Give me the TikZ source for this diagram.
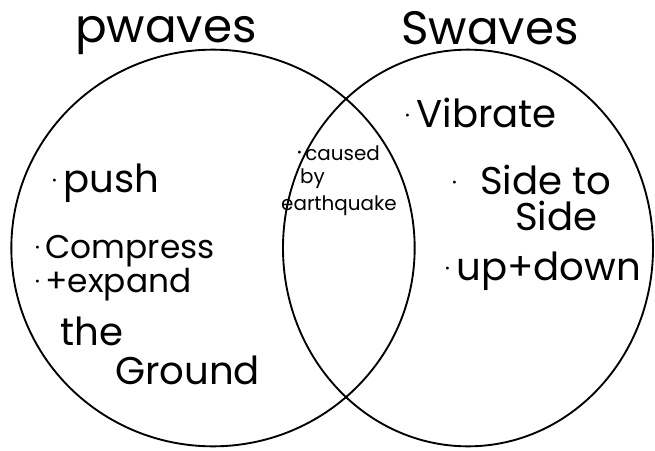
\documentclass[tikz,border=0pt]{standalone}
\usepackage{fontspec}
\setmainfont{Poppins}
\usetikzlibrary{shapes.geometric}

\newcommand{\itemdot}{\raisebox{0.2em}{\fontsize{10}{10}\selectfont\textbullet}\,}

\begin{document}
\begin{tikzpicture}[x=0.03cm, y=-0.03cm,
	ring/.style={ellipse, draw=black, line width=1.6pt, inner sep=0pt},
	title/.style={font=\fontsize{40}{44}\selectfont, anchor=center},
	note/.style={font=\fontsize{28}{30}\selectfont, anchor=base west, inner sep=0pt},
	bignote/.style={note, font=\fontsize{33}{35}\selectfont},
	small/.style={font=\fontsize{17}{18}\selectfont, anchor=base west, inner sep=0pt}
]
\useasboundingbox (0,0) rectangle (655,450);

% Circles
\node[ring, minimum width=12.1cm, minimum height=11.9cm] (P) at (213,248) {};
\node[ring, minimum width=11.1cm, minimum height=11.9cm] (S) at (468,248) {};

% Titles
\node[title] (Ptitle) at (166,36) {pwaves};
\node[title] (Stitle) at (490,28) {Swaves};

% P waves only
\node[bignote] (push) at (52,192) {\itemdot push};
\node[note] (comp) at (35,258) {\itemdot Compress};
\node[note] (expand) at (35,292) {\itemdot +expand};
\node[bignote] (the) at (60,345) {the};
\node[bignote] (ground) at (115,384) {Ground};

% Both
\node[small] (caused) at (297,160) {\itemdot caused};
\node[small] (by) at (300,183) {by};
\node[small] (quake) at (281,210) {earthquake};

% S waves only
\node[bignote] (vib) at (405,127) {\itemdot Vibrate};
\node[bignote] (side) at (452,194) {\itemdot\, Side to};
\node[bignote] (side2) at (515,230) {Side};
\node[bignote] (updown) at (445,280) {\itemdot up+down};

\end{tikzpicture}
\end{document}
